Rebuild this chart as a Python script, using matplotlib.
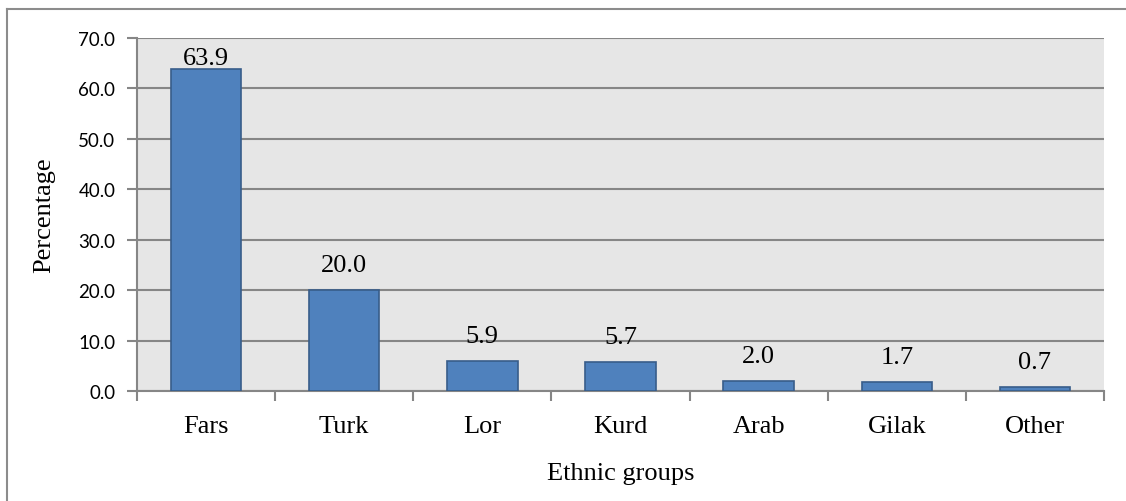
import matplotlib
matplotlib.use("Agg")
import matplotlib.pyplot as plt
from matplotlib.lines import Line2D
from matplotlib.ticker import FixedLocator, NullFormatter
import numpy as np

groups = ["Fars", "Turk", "Lor", "Kurd", "Arab", "Gilak", "Other"]
percentages = [63.9, 20.0, 5.9, 5.7, 2.0, 1.7, 0.7]
y_ticks = [0, 10, 20, 30, 40, 50, 60, 70]

W, H, DPI = 1126, 502, 100
fig = plt.figure(figsize=(W / DPI, H / DPI), dpi=DPI)
fig.patch.set_facecolor("white")

# plot area placed in pixel terms
left, right, top, bottom = 137, 1104, 39, 392
ax = fig.add_axes([left / W, (H - bottom) / H, (right - left) / W, (bottom - top) / H])
ax.set_facecolor("#e6e6e6")

grid_col = "#868686"
x = np.arange(len(groups))
bars = ax.bar(x, percentages, width=0.51, color="#4f81bd", edgecolor="#385d8a",
              linewidth=1.2, zorder=3)

ax.set_xlim(-0.5, len(groups) - 0.5)
ax.set_ylim(0, 70)
ax.set_yticks(y_ticks)
ax.set_yticklabels([f"{t:.1f}" for t in y_ticks], fontfamily="Lato", fontsize=13.5)
ax.yaxis.grid(True, color=grid_col, linewidth=1.5, zorder=1)
ax.set_axisbelow(True)

# category labels centred, tick marks between categories
ax.set_xticks(x)
ax.set_xticklabels(groups, fontfamily="Liberation Serif", fontsize=19)
ax.tick_params(axis="x", which="major", length=0, pad=17)
ax.xaxis.set_minor_locator(FixedLocator(np.arange(-0.5, len(groups), 1.0)))
ax.xaxis.set_minor_formatter(NullFormatter())
ax.tick_params(axis="x", which="minor", length=7, width=1.5, color=grid_col, direction="out")
ax.tick_params(axis="y", length=7, width=1.5, color=grid_col, direction="out", pad=8.5)

for side in ("top", "right"):
    ax.spines[side].set_visible(False)
for side in ("left", "bottom"):
    ax.spines[side].set_color(grid_col)
    ax.spines[side].set_linewidth(1.5)

ax.set_xlabel("Ethnic groups", fontfamily="Liberation Serif", fontsize=19, labelpad=18)
ax.set_ylabel("Percentage", fontfamily="Liberation Serif", fontsize=19, labelpad=17)

# value labels above bars, kept inside the plot area
to_px = ax.transData
for xi, v in zip(x, percentages):
    bar_top_px = H - to_px.transform((xi, v))[1]
    offset_px = min(25, bar_top_px - (top + 20))
    ax.annotate(f"{v:.1f}", xy=(xi, v), xytext=(0, offset_px * 72 / DPI),
                textcoords="offset points", ha="center", va="center",
                fontfamily="Liberation Serif", fontsize=19, zorder=4)

# chart frame (left and top edges)
frame_col = "#8c8c8c"
fig.add_artist(Line2D([7 / W, 7 / W], [0, 1 - 10 / H], transform=fig.transFigure,
                      color=frame_col, linewidth=1.5))
fig.add_artist(Line2D([7 / W, 1], [1 - 10 / H, 1 - 10 / H], transform=fig.transFigure,
                      color=frame_col, linewidth=1.5))

fig.savefig("out.png", dpi=DPI, facecolor="white")
